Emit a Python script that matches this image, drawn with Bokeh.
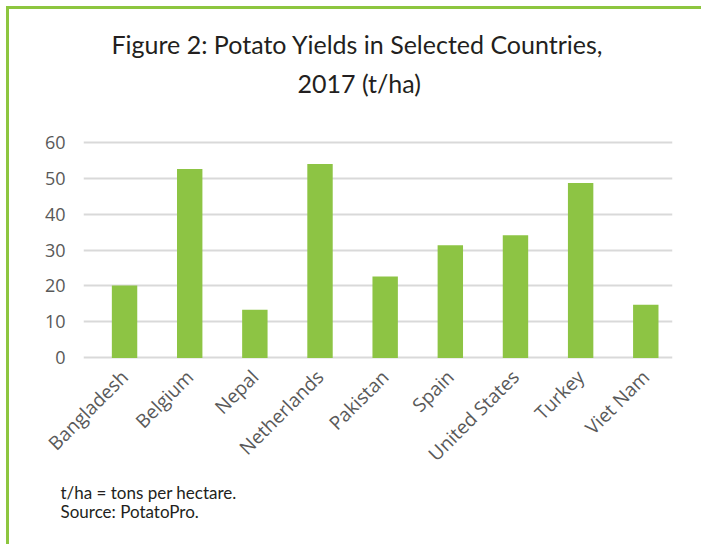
import math
from bokeh.plotting import figure
from bokeh.models import Range1d, FixedTicker, Title, ColumnDataSource
from bokeh.embed import file_html
from bokeh.resources import INLINE

countries = ["Bangladesh", "Belgium", "Nepal", "Netherlands", "Pakistan",
             "Spain", "United States", "Turkey", "Viet Nam"]
yields = [20.1, 52.5, 13.4, 53.9, 22.6, 31.3, 34.1, 48.6, 14.8]
y_ticks = [0, 10, 20, 30, 40, 50, 60]
title_line1 = "Figure 2: Potato Yields in Selected Countries,"
title_line2 = "2017 (t/ha)"
note1 = "t/ha = tons per hectare."
note2 = "Source: PotatoPro."

positions = list(range(len(countries)))
src = ColumnDataSource(dict(x=positions, top=yields, name=countries))

TITLE_FONT = "Lato"
TICK_FONT = "Open Sans"

p = figure(width=695, height=538, output_backend="svg", toolbar_location=None,
           x_range=Range1d(-0.63, 8.41), y_range=Range1d(-1, 61),
           min_border_left=74, min_border_right=32, min_border_top=129,
           min_border_bottom=186)
p.styles = {"margin-left": "6px", "margin-top": "6px",
            "border-left": "3px solid #8DC63F", "border-top": "3px solid #8DC63F"}
p.outline_line_color = None
p.background_fill_color = "white"
p.border_fill_color = "white"

p.vbar(x="x", top="top", bottom=0, width=0.39, source=src,
       fill_color="#8DC444", line_color=None)

p.xgrid.grid_line_color = None
p.ygrid.grid_line_color = "#D9D9D9"
p.ygrid.grid_line_width = 2
p.ygrid.level = "underlay"

p.yaxis.ticker = FixedTicker(ticks=y_ticks)
p.yaxis.axis_line_color = None
p.yaxis.major_tick_line_color = None
p.yaxis.minor_tick_line_color = None
p.yaxis.major_label_text_font = TICK_FONT
p.yaxis.major_label_text_font_size = "18px"
p.yaxis.major_label_text_color = "#595959"
p.yaxis.major_label_standoff = 12

p.xaxis.ticker = FixedTicker(ticks=positions)
p.xaxis.major_label_overrides = {i: c for i, c in zip(positions, countries)}
p.xaxis.major_label_orientation = math.pi / 4
p.xaxis.axis_line_color = None
p.xaxis.major_tick_line_color = None
p.xaxis.minor_tick_line_color = None
p.xaxis.major_label_text_font = TICK_FONT
p.xaxis.major_label_text_font_size = "19px"
p.xaxis.major_label_text_color = "#595959"
p.xaxis.major_label_standoff = 6

# spacer nearest the frame, then the two title lines (first added is nearest)
p.add_layout(Title(text=" ", text_font_size="1px", standoff=34), "above")
p.add_layout(Title(text=title_line2, align="left", text_font=TITLE_FONT,
                   text_font_size="25px", text_font_style="normal",
                   text_color="#231F20", offset=214, standoff=7), "above")
p.add_layout(Title(text=title_line1, align="left", text_font=TITLE_FONT,
                   text_font_size="25px", text_font_style="normal",
                   text_color="#231F20", offset=28, standoff=7), "above")
p.add_layout(Title(text=note1 + "\n" + note2, align="left", text_font=TITLE_FONT,
                   text_font_size="17px", text_font_style="normal",
                   text_line_height=0.95,
                   text_color="#231F20", offset=-23, standoff=2), "below")

open("out.html", "w").write(file_html(p, INLINE))
